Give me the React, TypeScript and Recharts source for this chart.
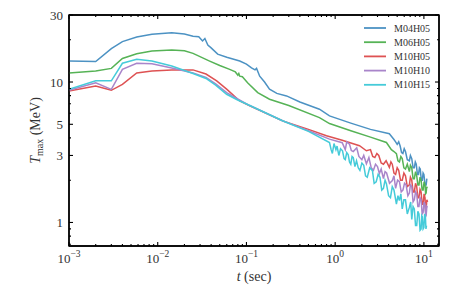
import React from 'react';
import { LineChart, Line, XAxis, YAxis, ReferenceArea } from 'recharts';

// [t (sec), Tmax (MeV)]
const m04h05 = [
  [0.001, 14.1], [0.002, 14.0], [0.003, 17.3], [0.004, 19.4], [0.0058, 20.9], [0.0086, 21.9],
  [0.0144, 22.4], [0.02, 22.0], [0.025, 21.2], [0.029, 21.0], [0.032, 19.6], [0.034, 20.4],
  [0.0367, 18.3], [0.04, 17.5], [0.0474, 15.8], [0.06, 15.0], [0.084, 14.1], [0.1, 13.4],
  [0.114, 12.6], [0.125, 12.2], [0.13, 12.5], [0.141, 11.0], [0.16, 10.0], [0.182, 8.9],
  [0.22, 8.3], [0.283, 7.96], [0.4, 7.2], [0.665, 6.4], [0.863, 5.74], [1.5, 5.1], [2.5, 4.6],
  [4.08, 4.28], [4.6, 3.9], [4.8, 3.75], [5.0, 3.6], [5.2, 3.75], [5.4, 3.5], [5.6, 3.15],
  [5.8, 3.1], [6.0, 3.35], [6.2, 3.2], [6.5, 2.8], [6.86, 2.75], [7.05, 3.0], [7.3, 2.85],
  [7.55, 2.45], [7.8, 2.45], [8.0, 2.7], [8.2, 2.6], [8.45, 2.2], [8.7, 2.2], [8.9, 2.45],
  [9.1, 2.4], [9.35, 2.0], [9.6, 2.0], [9.8, 2.25], [10.0, 2.2], [10.3, 1.85], [10.6, 1.85],
  [10.8, 2.05],
];

const m06h05 = [
  [0.001, 11.6], [0.002, 12.0], [0.003, 12.5], [0.004, 14.7], [0.0058, 15.9], [0.0086, 16.6],
  [0.0144, 16.9], [0.02, 16.7], [0.025, 16.0], [0.0385, 14.1], [0.05, 13.1], [0.0647, 12.3],
  [0.075, 11.8], [0.08, 11.2], [0.082, 11.5], [0.084, 11.0], [0.09, 10.9], [0.103, 9.89],
  [0.134, 8.4], [0.182, 7.54], [0.3, 6.8], [0.665, 5.58], [0.863, 5.06], [1.5, 4.5], [2.5, 4.05],
  [3.78, 3.71], [4.3, 3.3], [4.6, 3.2], [4.9, 3.09], [5.1, 2.75], [5.3, 2.7], [5.5, 2.95],
  [5.7, 2.85], [5.95, 2.45], [6.2, 2.4], [6.5, 2.6], [6.86, 2.3], [7.05, 2.55], [7.3, 2.45],
  [7.55, 2.05], [7.8, 2.05], [8.05, 2.3], [8.3, 2.15], [8.55, 1.85], [8.8, 1.85], [9.05, 2.1],
  [9.3, 2.0], [9.55, 1.7], [9.8, 1.7], [10.05, 1.95], [10.3, 1.85], [10.45, 1.6], [10.6, 1.62],
  [10.75, 1.8], [10.9, 1.75],
];

const m10h05 = [
  [0.001, 8.63], [0.002, 9.37], [0.003, 8.73], [0.004, 9.63], [0.0058, 11.6], [0.0086, 12.0],
  [0.0144, 12.2], [0.025, 12.2], [0.035, 11.4], [0.0462, 10.2], [0.0598, 8.9], [0.084, 7.33],
  [0.109, 6.76], [0.255, 5.29], [0.5, 4.6], [0.798, 4.14], [1.2, 3.85], [1.88, 3.52],
  [2.25, 3.24], [2.5, 3.3], [2.65, 2.95], [2.8, 2.9], [2.95, 3.1], [3.1, 3.0], [3.3, 2.65],
  [3.5, 2.6], [3.75, 2.75], [4.08, 2.47], [4.25, 2.7], [4.4, 2.6], [4.6, 2.25], [4.8, 2.2],
  [5.0, 2.45], [5.2, 2.35], [5.45, 2.0], [5.7, 2.0], [5.95, 2.25], [6.2, 2.15], [6.5, 1.8],
  [6.86, 1.85], [7.05, 2.1], [7.3, 2.0], [7.55, 1.65], [7.8, 1.65], [8.05, 1.9], [8.3, 1.8],
  [8.55, 1.5], [8.8, 1.5], [9.05, 1.72], [9.3, 1.65], [9.55, 1.35], [9.8, 1.35], [10.05, 1.6],
  [10.3, 1.5], [10.45, 1.2], [10.6, 1.25], [10.8, 1.45], [11.0, 1.4],
];

const m10h10 = [
  [0.001, 8.73], [0.002, 9.89], [0.003, 8.87], [0.004, 12.3], [0.0058, 13.6], [0.0086, 13.5],
  [0.0144, 12.6], [0.025, 11.6], [0.035, 10.8], [0.045, 9.7], [0.0598, 8.4], [0.0796, 7.57],
  [0.109, 6.8], [0.255, 5.3], [0.5, 4.5], [0.863, 3.92], [1.2, 3.7], [1.3, 3.3], [1.35, 3.75],
  [1.45, 3.61], [1.52, 3.25], [1.6, 3.2], [1.75, 3.4], [1.85, 2.95], [2.0, 2.8], [2.1, 3.0],
  [2.25, 2.62], [2.4, 2.9], [2.55, 2.45], [2.7, 2.35], [2.85, 2.6], [3.0, 2.5], [3.15, 2.23],
  [3.3, 2.4], [3.5, 2.05], [3.65, 2.3], [3.8, 2.25], [4.1, 1.9], [4.41, 1.99], [4.6, 2.15],
  [4.8, 1.75], [5.05, 2.0], [5.3, 1.95], [5.55, 1.65], [5.8, 1.7], [6.05, 1.9], [6.3, 1.85],
  [6.6, 1.55], [6.86, 1.62], [7.05, 1.85], [7.3, 1.8], [7.55, 1.4], [7.8, 1.45], [8.05, 1.65],
  [8.3, 1.6], [8.55, 1.3], [8.8, 1.3], [9.05, 1.5], [9.3, 1.45], [9.55, 1.15], [9.8, 1.18],
  [10.05, 1.4], [10.3, 1.35], [10.45, 1.1], [10.6, 1.12], [10.8, 1.3], [11.0, 1.28],
];

const m10h15 = [
  [0.001, 8.87], [0.002, 10.2], [0.003, 10.2], [0.004, 13.6], [0.0058, 14.5], [0.0086, 14.1],
  [0.0144, 13.0], [0.025, 11.5], [0.035, 10.6], [0.045, 9.5], [0.0598, 8.18], [0.0796, 7.45],
  [0.109, 6.8], [0.255, 5.3], [0.5, 4.45], [0.863, 3.71], [0.9, 3.3], [0.93, 3.1], [0.97, 3.65],
  [1.02, 3.3], [1.05, 3.5], [1.1, 3.0], [1.15, 3.35], [1.21, 3.24], [1.26, 2.85], [1.3, 2.8],
  [1.35, 3.15], [1.4, 3.05], [1.45, 2.7], [1.5, 2.6], [1.55, 2.95], [1.6, 2.9], [1.67, 2.5],
  [1.74, 2.75], [1.82, 2.45], [1.9, 2.35], [2.0, 2.65], [2.1, 2.55], [2.2, 2.15], [2.3, 2.1],
  [2.45, 2.45], [2.63, 2.34], [2.75, 1.9], [2.9, 1.95], [3.05, 2.2], [3.2, 2.1], [3.35, 1.7],
  [3.5, 1.75], [3.65, 2.0], [3.78, 1.89], [4.0, 1.55], [4.2, 1.5], [4.4, 1.8], [4.6, 1.7],
  [4.9, 1.35], [5.1, 1.55], [5.29, 1.43], [5.5, 1.6], [5.7, 1.25], [5.95, 1.45], [6.2, 1.45],
  [6.5, 1.15], [6.86, 1.28], [7.1, 1.4], [7.3, 1.05], [7.55, 1.3], [7.8, 1.25], [8.05, 0.95],
  [8.3, 0.95], [8.55, 1.2], [8.8, 1.15], [9.05, 0.88], [9.3, 0.9], [9.45, 1.12], [9.6, 1.1],
  [9.8, 0.9], [10.0, 0.92], [10.2, 1.15], [10.4, 1.1], [10.55, 0.9], [10.7, 0.95],
];

const seriesNames = ['M04H05', 'M06H05', 'M10H05', 'M10H10', 'M10H15'];
const seriesColors = ['#4c92c3', '#56b356', '#de5253', '#a985ca', '#45cbd9'];
const seriesData = [m04h05, m06h05, m10h05, m10h10, m10h15];

const xMajorTicks = [0.001, 0.01, 0.1, 1, 10];
const xExponents = ['\u22123', '\u22122', '\u22121', '0', '1'];
const xMinorTicks = [
  0.002, 0.003, 0.004, 0.005, 0.006, 0.007, 0.008, 0.009,
  0.02, 0.03, 0.04, 0.05, 0.06, 0.07, 0.08, 0.09,
  0.2, 0.3, 0.4, 0.5, 0.6, 0.7, 0.8, 0.9,
  2, 3, 4, 5, 6, 7, 8, 9,
];
const yMajorTicks = [1, 3, 5, 10, 30];
const yMinorTicks = [0.7, 0.8, 0.9, 2, 4, 6, 7, 8, 9, 20];

const X_DOMAIN = [0.001, 14.8];
const Y_DOMAIN = [0.68, 30];
const FONT = "'Liberation Serif', 'DejaVu Serif', serif";
const FRAME = { stroke: '#000', strokeWidth: 1.4 };

const xTicks = [...xMajorTicks, ...xMinorTicks];
const yTicks = [...yMajorTicks, ...yMinorTicks];

function tickLen(v: number, majors: number[]) {
  return majors.includes(v) ? 4 : 2;
}

function BottomTick(props: any) {
  const { x, y, payload } = props;
  const v = payload.value;
  const len = tickLen(v, xMajorTicks);
  const idx = xMajorTicks.indexOf(v);
  return (
    <g>
      <line x1={x} y1={y} x2={x} y2={y - len} stroke="#000" strokeWidth={1.1} />
      {idx >= 0 && (
        <text x={x} y={y + 17} textAnchor="middle" fontFamily={FONT} fontSize={13} fill="#333">
          <tspan>10</tspan>
          <tspan dy={-6} fontSize={9.5}>{xExponents[idx]}</tspan>
        </text>
      )}
    </g>
  );
}

function TopTick(props: any) {
  const { x, y, payload } = props;
  const len = tickLen(payload.value, xMajorTicks);
  return <line x1={x} y1={y} x2={x} y2={y + len} stroke="#000" strokeWidth={1.1} />;
}

function LeftTick(props: any) {
  const { x, y, payload } = props;
  const v = payload.value;
  const len = tickLen(v, yMajorTicks);
  const labelled = yMajorTicks.includes(v);
  return (
    <g>
      <line x1={x} y1={y} x2={x + len} y2={y} stroke="#000" strokeWidth={1.1} />
      {labelled && (
        <text x={x - 6} y={y} dy="0.35em" textAnchor="end" fontFamily={FONT} fontSize={13} fill="#333">
          {v}
        </text>
      )}
    </g>
  );
}

function RightTick(props: any) {
  const { x, y, payload } = props;
  const len = tickLen(payload.value, yMajorTicks);
  return <line x1={x} y1={y} x2={x - len} y2={y} stroke="#000" strokeWidth={1.1} />;
}

function YLabel(props: any) {
  const { viewBox } = props;
  const cx = 32;
  const cy = viewBox.y + viewBox.height / 2;
  return (
    <text
      x={cx}
      y={cy}
      transform={`rotate(-90, ${cx}, ${cy})`}
      textAnchor="middle"
      fontFamily={FONT}
      fontSize={14}
      fill="#333"
    >
      <tspan fontStyle="italic">T</tspan>
      <tspan dy={3} fontSize={10}>max</tspan>
      <tspan dy={-3}> (MeV)</tspan>
    </text>
  );
}

function XLabel(props: any) {
  const { viewBox } = props;
  const cx = viewBox.x + viewBox.width / 2;
  return (
    <text x={cx} y={273} textAnchor="middle" fontFamily={FONT} fontSize={14} fill="#333">
      <tspan fontStyle="italic">t</tspan>
      <tspan> (sec)</tspan>
    </text>
  );
}

function LegendBox() {
  return (
    <svg width={90} height={80} style={{ position: 'absolute', top: 13, left: 352 }}>
      {seriesNames.map((name, i) => (
        <g key={name} transform={`translate(0, ${7 + i * 14.2})`}>
          <line x1={4} y1={0} x2={26} y2={0} stroke={seriesColors[i]} strokeWidth={1.8} />
          <text x={34} y={0} dy="0.35em" fontFamily={FONT} fontSize={10} fill="#333">
            {name}
          </text>
        </g>
      ))}
    </svg>
  );
}

export default function App() {
  return (
    <div style={{ width: 455, height: 282, position: 'relative' }}>
      <LineChart width={455} height={282} margin={{ top: 2, right: 14, bottom: 14, left: 16 }}>
        <XAxis
          dataKey="t"
          type="number"
          scale="log"
          domain={X_DOMAIN}
          allowDataOverflow
          ticks={xTicks}
          interval={0}
          tickSize={0}
          tickMargin={0}
          tick={(p: any) => <BottomTick {...p} />}
          axisLine={FRAME}
          tickLine={false}
          height={30}
          label={<XLabel />}
        />
        <XAxis
          xAxisId="top"
          orientation="top"
          dataKey="t"
          type="number"
          scale="log"
          domain={X_DOMAIN}
          allowDataOverflow
          ticks={xTicks}
          interval={0}
          tickSize={0}
          tickMargin={0}
          tick={(p: any) => <TopTick {...p} />}
          axisLine={FRAME}
          tickLine={false}
          height={5}
        />
        <YAxis
          type="number"
          scale="log"
          domain={Y_DOMAIN}
          allowDataOverflow
          ticks={yTicks}
          interval={0}
          tickSize={0}
          tickMargin={0}
          tick={(p: any) => <LeftTick {...p} />}
          axisLine={FRAME}
          tickLine={false}
          width={45}
          label={<YLabel />}
        />
        <YAxis
          yAxisId="right"
          orientation="right"
          type="number"
          scale="log"
          domain={Y_DOMAIN}
          allowDataOverflow
          ticks={yTicks}
          interval={0}
          tickSize={0}
          tickMargin={0}
          tick={(p: any) => <RightTick {...p} />}
          axisLine={FRAME}
          tickLine={false}
          width={10}
        />
        <ReferenceArea
          x1={X_DOMAIN[0]}
          x2={X_DOMAIN[1]}
          y1={Y_DOMAIN[0]}
          y2={Y_DOMAIN[1]}
          fill="none"
          fillOpacity={0}
          stroke="#000"
          strokeWidth={1.4}
          ifOverflow="visible"
        />
        {seriesData.map((arr, i) => (
          <Line
            key={seriesNames[i]}
            name={seriesNames[i]}
            data={arr.map(([t, T]) => ({ t, T }))}
            dataKey="T"
            stroke={seriesColors[i]}
            strokeWidth={1.5}
            dot={false}
            activeDot={false}
            isAnimationActive={false}
          />
        ))}
      </LineChart>
      <LegendBox />
    </div>
  );
}
